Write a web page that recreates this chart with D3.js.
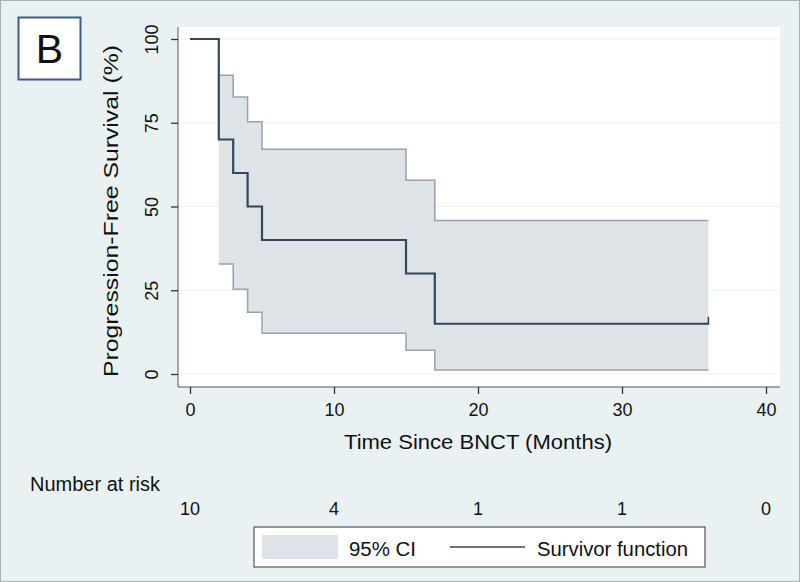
<!DOCTYPE html>
<html><head><meta charset="utf-8">
<script src="https://cdn.jsdelivr.net/npm/d3@7"></script>
<style>body{margin:0;background:#e9f1f2;}svg{display:block;font-family:"Liberation Sans",Arial,sans-serif;}</style>
</head><body>
<svg id="c" width="800" height="582"></svg>
<script>
// Kaplan-Meier step data
const stepTimes = [0, 2, 3, 4, 5, 15, 17, 36];
const survival  = [100, 70, 60, 50, 40, 30, 15, 15];
const ciTimes   = [2, 3, 4, 5, 15, 17, 36];
const ciUpper   = [89.2, 82.7, 75.3, 67.1, 57.8, 45.8, 45.8];
const ciLower   = [32.8, 25.3, 18.4, 12.2, 7.1, 1.2, 1.2];
const censorTimes = [36];
const xTicks = [0, 10, 20, 30, 40];
const yTicks = [0, 25, 50, 75, 100];
const riskTimes = [0, 10, 20, 30, 40];
const atRisk = [10, 4, 1, 1, 0];

const svg = d3.select("#c");
const W = 800, H = 582;
svg.append("rect").attr("x",0.5).attr("y",0.5).attr("width",W-1).attr("height",H-1)
  .attr("fill","#e9f1f2").attr("stroke","#a9b0b3");

const x = d3.scaleLinear().domain([0,40]).range([190,766]);
const y = d3.scaleLinear().domain([0,100]).range([374,39]);

// plot region
svg.append("rect").attr("x",178).attr("y",27).attr("width",602).attr("height",360).attr("fill","#ffffff");
// gridlines
svg.append("g").selectAll("line").data(yTicks).join("line")
  .attr("x1",178).attr("x2",780).attr("y1",d=>y(d)).attr("y2",d=>y(d))
  .attr("stroke","#eaf0f2").attr("stroke-width",1.2);

// CI band
const ciData = ciTimes.map((t,i)=>({t, lo:ciLower[i], hi:ciUpper[i]}));
svg.append("path").datum(ciData)
  .attr("d", d3.area().curve(d3.curveStepAfter).x(d=>x(d.t)).y0(d=>y(d.lo)).y1(d=>y(d.hi)))
  .attr("fill","#dde3e7").attr("stroke","none");
svg.append("path").datum(ciData).attr("d", d3.line().curve(d3.curveStepAfter).x(d=>x(d.t)).y(d=>y(d.hi)))
  .attr("fill","none").attr("stroke","#99a3ab").attr("stroke-width",1.5);
svg.append("path").datum(ciData).attr("d", d3.line().curve(d3.curveStepAfter).x(d=>x(d.t)).y(d=>y(d.lo)))
  .attr("fill","none").attr("stroke","#99a3ab").attr("stroke-width",1.5);

// survivor function
const sData = stepTimes.map((t,i)=>({t, s:survival[i]}));
svg.append("path").datum(sData)
  .attr("d", d3.line().curve(d3.curveStepAfter).x(d=>x(d.t)).y(d=>y(d.s)))
  .attr("fill","none").attr("stroke","#32465e").attr("stroke-width",2.2);
// censor ticks
svg.append("g").selectAll("line").data(censorTimes).join("line")
  .attr("x1",d=>x(d)).attr("x2",d=>x(d))
  .attr("y1",d=>y(15)+1).attr("y2",d=>y(15)-7)
  .attr("stroke","#32465e").attr("stroke-width",1.6);

// axes
const yAxis = d3.axisLeft(y).tickValues(yTicks).tickSize(7);
const gy = svg.append("g").attr("transform","translate(178,0)").call(yAxis);
gy.select(".domain").attr("d","M0,27V387").attr("stroke","#555");
gy.selectAll(".tick line").attr("stroke","#333").attr("stroke-width",1.3);
gy.selectAll(".tick text").attr("font-size",18).attr("fill","#111")
  .attr("x",0).attr("y",0).attr("dy",0).attr("text-anchor","middle")
  .attr("transform","translate(-20,0) rotate(-90)");

const xAxis = d3.axisBottom(x).tickValues(xTicks).tickSize(7);
const gx = svg.append("g").attr("transform","translate(0,387)").call(xAxis);
gx.select(".domain").attr("d","M178,0H780").attr("stroke","#555");
gx.selectAll(".tick line").attr("stroke","#333").attr("stroke-width",1.3);
gx.selectAll(".tick text").attr("font-size",18).attr("fill","#111").attr("y",29).attr("dy",0);

// axis titles
svg.append("text").attr("x",478).attr("y",449).attr("text-anchor","middle")
  .attr("font-size",21).attr("fill","#111")
  .attr("textLength",268).attr("lengthAdjust","spacingAndGlyphs").text("Time Since BNCT (Months)");
svg.append("text").attr("transform","translate(118,211) rotate(-90)").attr("text-anchor","middle")
  .attr("font-size",20).attr("fill","#111")
  .attr("textLength",332).attr("lengthAdjust","spacingAndGlyphs").text("Progression-Free Survival (%)");

// number at risk
svg.append("text").attr("x",30).attr("y",491).attr("font-size",19.5).attr("fill","#111")
  .attr("textLength",130).attr("lengthAdjust","spacingAndGlyphs").text("Number at risk");
svg.append("g").selectAll("text").data(riskTimes).join("text")
  .attr("x",(d)=>x(d)).attr("y",515).attr("text-anchor","middle")
  .attr("font-size",18).attr("fill","#111").text((d,i)=>atRisk[i]);

// legend
const lg = svg.append("g");
lg.append("rect").attr("x",254).attr("y",527).attr("width",451).attr("height",40)
  .attr("fill","#ffffff").attr("stroke","#555").attr("stroke-width",1.2);
lg.append("rect").attr("x",262).attr("y",535).attr("width",76).attr("height",24).attr("fill","#dde3e7");
lg.append("text").attr("x",349).attr("y",556).attr("font-size",20).attr("fill","#111")
  .attr("textLength",67).attr("lengthAdjust","spacingAndGlyphs").text("95% CI");
lg.append("line").attr("x1",450).attr("x2",525).attr("y1",547).attr("y2",547)
  .attr("stroke","#32465e").attr("stroke-width",1.5);
lg.append("text").attr("x",537).attr("y",556).attr("font-size",20).attr("fill","#111")
  .attr("textLength",151).attr("lengthAdjust","spacingAndGlyphs").text("Survivor function");

// panel label
svg.append("rect").attr("x",18.5).attr("y",17.5).attr("width",62).attr("height",62)
  .attr("fill","#ffffff").attr("stroke","#3f5a8c").attr("stroke-width",2);
svg.append("text").attr("x",49.5).attr("y",63).attr("text-anchor","middle")
  .attr("font-size",41).attr("fill","#111").text("B");
</script>
</body></html>
